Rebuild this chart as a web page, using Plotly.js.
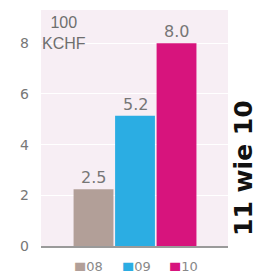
<!DOCTYPE html>
<html>
<head>
<meta charset="utf-8">
<script src="https://cdn.plot.ly/plotly-3.0.1.min.js"></script>
<style>
  html, body { margin: 0; padding: 0; background: #ffffff; }
  #chart { width: 256px; height: 271px; }
</style>
</head>
<body>
<div id="chart"></div>
<script>
const categories = ['08', '09', '10'];
// bar heights as drawn in the picture (the source draws them slightly off their labels)
const barHeights = [2.24, 5.14, 8.0];
const valueLabels = ['2.5', '5.2', '8.0'];
const barColors = ['#b29f98', '#2badE3', '#d7147d'];
const yTicks = [0, 2, 4, 6, 8];
const unitLabel = '100<br>KCHF';
const sideTitle = '11 wie 10';

const trace = {
  type: 'bar',
  x: categories,
  y: barHeights,
  marker: { color: barColors, line: { width: 0 } },
  width: 0.96,
  hoverinfo: 'none',
  showlegend: false
};

const valueAnnotations = categories.map((c, i) => ({
  xref: 'x', yref: 'y',
  x: i, y: barHeights[i],
  xanchor: 'center', yanchor: 'bottom',
  yshift: 0,
  showarrow: false,
  text: valueLabels[i],
  font: { family: 'DejaVu Sans', size: 16, color: '#767676' }
}));

const legendAnnotations = categories.map((c, i) => ({
  xref: 'paper', yref: 'paper',
  x: (72 + i * 47.5 - 41) / 187, y: -0.047,
  xanchor: 'left', yanchor: 'top',
  showarrow: false,
  text: '<span style="color:' + barColors[i] + '">■</span>' + c,
  font: { family: 'DejaVu Sans', size: 13, color: '#888888' }
}));

const layout = {
  width: 256, height: 271,
  margin: { l: 41, r: 28, t: 10, b: 25 },
  paper_bgcolor: '#ffffff',
  plot_bgcolor: '#f7eef4',
  showlegend: false,
  xaxis: {
    type: 'category',
    range: [-1.265, 3.24],
    showticklabels: false,
    ticks: '',
    showgrid: false,
    showline: true, linecolor: '#9a9a9a', linewidth: 1.5,
    zeroline: false, fixedrange: true
  },
  yaxis: {
    range: [0, 9.31],
    tickvals: yTicks,
    ticktext: yTicks.map(String),
    ticks: '',
    ticklabelstandoff: 11,
    tickfont: { family: 'DejaVu Sans', size: 14, color: '#777777' },
    showgrid: true, gridcolor: '#ffffff', gridwidth: 1,
    zeroline: false, showline: false, fixedrange: true
  },
  annotations: [
    {
      xref: 'paper', yref: 'paper',
      x: (64 - 41) / 187, y: (246 - 33) / 236,
      xanchor: 'center', yanchor: 'middle',
      showarrow: false, align: 'center',
      text: unitLabel,
      font: { family: 'Liberation Sans', size: 16, color: '#6e6e6e' }
    },
    {
      xref: 'paper', yref: 'paper',
      x: (243 - 41) / 187, y: (246 - 168) / 236,
      xanchor: 'center', yanchor: 'middle',
      showarrow: false, textangle: -90,
      text: '<b>' + sideTitle + '</b>',
      font: { family: 'DejaVu Sans', size: 25, color: '#111111' }
    }
  ].concat(valueAnnotations, legendAnnotations)
};

Plotly.newPlot('chart', [trace], layout, { staticPlot: true, displayModeBar: false });
</script>
</body>
</html>
